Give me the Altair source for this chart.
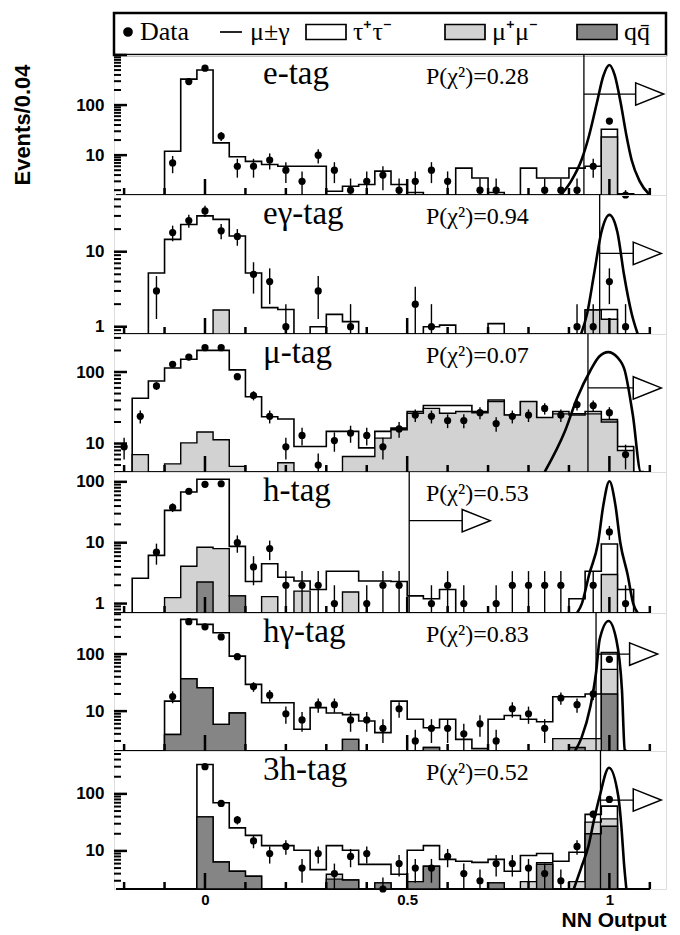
import math
import altair as alt
import pandas as pd

# ---------------- data ----------------
centers = [-0.20, -0.16, -0.12, -0.08, -0.04, 0.00, 0.04, 0.08, 0.12, 0.16, 0.20,
           0.24, 0.28, 0.32, 0.36, 0.40, 0.44, 0.48, 0.52, 0.56, 0.60, 0.64,
           0.68, 0.72, 0.76, 0.80, 0.84, 0.88, 0.92, 0.96, 1.00, 1.04, 1.08]

tags = ["e-tag", "eγ-tag", "μ-tag", "h-tag", "hγ-tag", "3h-tag"]
pchi = ["0.28", "0.94", "0.07", "0.53", "0.83", "0.52"]

# stacked tops: total (tau+mumu+qq), mumu+qq, qq ; data counts
tot_e = [0, 0, 0, 12, 330, 500, 17.6, 9.3, 7.5, 6.5, 6, 6, 6, 1.9, 2.4, 2.6, 4.8, 2.6, 1.8, 0, 0, 5.5, 3.5, 1.8, 0, 5.5, 3.5, 3.5, 5.5, 6, 33, 1.7, 0]
mu_e = [0] * 30 + [23, 0, 0]
qq_e = [0] * 33
dat_e = [0, 0, 0, 7, 295, 545, 24, 6, 6, 8, 5, 3, 10, 5, 2, 3, 4, 2, 3, 5, 3, 0, 2, 2, 0, 0, 2, 2, 2, 6, 48, 1, 0]

tot_eg = [0, 0, 5.2, 14.6, 23, 30, 27, 16.2, 5.2, 1.8, 1.7, 0, 1.0, 1.46, 1.17, 0, 0, 0, 0, 1.0, 1.05, 0, 0, 1.1, 0, 0, 0, 0, 0, 1.67, 1.7, 0, 0]
mu_eg = [0, 0, 0, 0, 0, 0, 1.67, 0, 0, 0, 0, 0, 0, 0, 0, 0, 0, 0, 0, 0, 0, 0, 0, 0, 0, 0, 0, 0, 0, 1.67, 1.26, 0, 0]
qq_eg = [0] * 33
dat_eg = [0, 0, 3, 18, 26, 35, 19, 16, 5, 4, 1, 0, 3, 0, 1, 0, 0, 0, 2, 1, 0, 0, 0, 0, 0, 0, 0, 0, 1, 1, 4, 1, 0]

tot_mu = [0, 43, 75, 114, 151, 201, 201, 107, 45, 23.7, 22, 9.1, 9.1, 14.8, 14.8, 8.7, 14.8, 16.4, 28, 34, 34, 34, 28, 40.6, 25, 38.5, 23, 28, 26, 28, 21.6, 9.1, 0]
mu_mu = [0, 7, 0, 5.2, 10.2, 14.5, 11.3, 4.8, 0, 0, 5.4, 0, 0, 0, 6.6, 6.6, 11.9, 15.6, 26.5, 31, 26.5, 28, 27, 38.5, 25, 38.5, 23, 26, 25, 26, 20, 8, 0]
qq_mu = [0] * 33
dat_mu = [9, 24, 64, 128, 162, 219, 219, 86, 47, 24, 9, 13, 5, 11, 14, 13, 9, 16, 25, 24, 21, 21, 27, 19, 24, 25, 31, 25, 35, 34, 27, 7, 0]

tot_h = [0, 2.6, 6.2, 34, 68, 110, 110, 8.7, 2.3, 4.5, 2.7, 2.35, 1.7, 3.4, 3.4, 2.35, 2.35, 2.3, 1.34, 1.2, 1.7, 0, 0, 0, 0, 0, 0, 0, 1.2, 3.4, 9.5, 1.7, 0]
mu_h = [0, 0, 0, 1.25, 4.1, 8.4, 8.0, 1.34, 0, 1.3, 0, 1.6, 0, 0, 1.55, 0, 0, 0, 0, 0, 0, 0, 0, 0, 0, 0, 0, 0, 0, 0, 3.0, 0, 0]
qq_h = [0, 0, 0, 0, 0, 2.26, 0, 1.34, 0, 0, 0, 0, 0, 0, 0, 0, 0, 0, 0, 0, 0, 0, 0, 0, 0, 0, 0, 0, 0, 0, 0, 0, 0]
dat_h = [0, 0, 7, 38, 70, 91, 93, 10, 4, 8, 2, 2, 2, 1, 0, 1, 2, 2, 0, 1, 2, 1, 0, 1, 2, 2, 2, 2, 0, 2, 15, 1, 0]

tot_hg = [0, 0, 0, 15, 406, 332, 237, 92, 29.4, 14, 14, 4.8, 11.5, 9.3, 8.7, 6.7, 4.2, 15, 7.2, 5.1, 7.2, 3.2, 2.2, 7.2, 8.4, 7.2, 6.5, 17.9, 17.9, 20, 106, 0, 0]
mu_hg = [0, 0, 0, 3.9, 37, 25.7, 5.85, 9.3, 0, 0, 0, 0, 0, 0, 3.2, 0, 0, 0, 0, 2.3, 0, 0, 0, 0, 0, 0, 0, 3.3, 3.3, 3.3, 54, 0, 0]
qq_hg = [0, 0, 0, 3.9, 37, 25.7, 5.85, 9.3, 0, 0, 0, 0, 0, 0, 3.2, 0, 0, 0, 0, 2.3, 0, 0, 0, 0, 0, 0, 0, 0, 2.3, 0, 20, 0, 0]
dat_hg = [0, 0, 0, 18, 370, 300, 200, 90, 27, 19, 9, 7, 13, 13, 7, 7, 5, 11, 3, 5, 5, 4, 6, 3, 11, 9, 5, 17, 13, 20, 81, 0, 0]

tot_3h = [0, 0, 0, 0, 0, 328, 70, 25.4, 18.7, 12.4, 12.4, 10.3, 4.7, 12.4, 10.3, 5.8, 5.8, 3.9, 10.3, 12.4, 7.1, 6.6, 6.3, 7.1, 4.4, 8.3, 9.0, 6.6, 9.5, 43.7, 61, 0, 0]
mu_3h = [0, 0, 0, 0, 0, 39.6, 6.4, 4.4, 3.6, 0, 0, 0, 0, 3.9, 3.1, 0, 2.75, 0, 2.9, 5.4, 0, 0, 0, 2.75, 0, 2.9, 6.2, 0, 2.9, 32, 36.5, 0, 0]
qq_3h = [0, 0, 0, 0, 0, 39.6, 6.4, 4.4, 3.6, 0, 0, 0, 0, 3.2, 3.1, 0, 2.75, 0, 2.9, 5.4, 0, 0, 0, 2.75, 0, 0, 5.8, 0, 0, 20, 27, 0, 0]
dat_3h = [0, 0, 0, 0, 0, 300, 68, 35, 15, 9, 12, 5, 9, 4, 8, 9, 2, 6, 5, 5, 8, 4, 3, 6, 6, 5, 4, 3, 12, 44, 80, 0, 0]

# signal (mu gamma) curves, read point by point
sig_x_e = [0.88, 0.905, 0.931, 0.95, 0.969, 0.985, 1.0, 1.013, 1.028, 1.042, 1.055, 1.075, 1.10]
sig_y_e = [1.5, 3, 8, 25, 110, 380, 630, 400, 110, 25, 8, 3, 1.4]
sig_x_eg = [0.93, 0.945, 0.962, 0.98, 1.0, 1.02, 1.036, 1.055, 1.07]
sig_y_eg = [0.8, 1.5, 5, 18, 31, 18, 5, 1.5, 0.8]
sig_x_mu = [0.84, 0.89, 0.92, 0.953, 0.975, 0.997, 1.02, 1.038, 1.058, 1.078, 1.085]
sig_y_mu = [3.5, 14.8, 43, 105, 165, 190, 160, 105, 25, 4, 2]
sig_x_h = [0.92, 0.932, 0.95, 0.972, 0.985, 1.0, 1.015, 1.027, 1.045, 1.059, 1.07]
sig_y_h = [0.5, 1, 3, 10, 41, 102, 41, 10, 3, 1, 0.5]
sig_x_hg = [0.915, 0.931, 0.953, 0.967, 0.976, 0.998, 1.017, 1.031, 1.038, 1.042]
sig_y_hg = [1.5, 3.4, 12, 47, 181, 380, 181, 24, 2.1, 1]
sig_x_3h = [0.912, 0.93, 0.948, 0.962, 0.976, 0.999, 1.022, 1.03, 1.036, 1.042]
sig_y_3h = [2.1, 5, 12, 35, 91, 287, 91, 25, 6.2, 1.5]

cuts = [0.937, 0.976, 0.947, 0.505, 0.967, 0.978]
arrow_y = [166, 9.5, 60, 23, 100, 78]
arrow_tip = [1.065, 1.059, 1.059, 0.636, 1.05, 1.059]

y_domains = [[1.6, 1000], [0.8, 57], [4, 340], [0.7, 145], [2, 525], [2.15, 565]]
y_labels = [[10, 100], [1, 10], [10, 100], [1, 10, 100], [10, 100], [10, 100]]

x_minor = [-0.2, -0.1, 0.1, 0.2, 0.3, 0.4, 0.6, 0.7, 0.8, 0.9, 1.1]
x_major = [0.0, 0.5, 1.0]
x_labels = [0, 0.5, 1]

legend_a = ["Data", "μ±γ", "τ⁺τ⁻"]
legend_b = ["μ⁺μ⁻"]
legend_c = ["qq̄"]

# ---------------- layout / style ----------------
W = 552
heights = [140, 139, 138, 141, 138, 138]
LEG_H = 42
XDOM = [-0.225, 1.14]
FLOOR = 1e-3
BIN = 0.04
SANS = "Liberation Sans"
SERIF = "Liberation Serif"
LIGHT = "#d2d2d2"
DARK = "#858585"
TRI = "M-1,-0.8L1,0L-1,0.8Z"
BOX = "M-1,-0.375L1,-0.375L1,0.375L-1,0.375Z"
DOT = "M0.55,0A0.2,0.2,0,1,1,0.95,0A0.2,0.2,0,1,1,0.55,0Z"
LINE = "M-0.15,0L0.95,0"

panels_data = [
    (tot_e, mu_e, qq_e, dat_e, sig_x_e, sig_y_e),
    (tot_eg, mu_eg, qq_eg, dat_eg, sig_x_eg, sig_y_eg),
    (tot_mu, mu_mu, qq_mu, dat_mu, sig_x_mu, sig_y_mu),
    (tot_h, mu_h, qq_h, dat_h, sig_x_h, sig_y_h),
    (tot_hg, mu_hg, qq_hg, dat_hg, sig_x_hg, sig_y_hg),
    (tot_3h, mu_3h, qq_3h, dat_3h, sig_x_3h, sig_y_3h),
]


def step_df(vals):
    xs = [round(c - BIN / 2, 3) for c in centers] + [round(centers[-1] + BIN / 2, 3)]
    ys = [v if v > 0 else FLOOR for v in vals]
    ys = ys + [ys[-1]]
    return pd.DataFrame({"x": xs, "y": ys, "base": FLOOR})


def panel(i, last):
    tot, mu, qq, dat, sx, sy = panels_data[i]
    H = heights[i]
    yscale = alt.Scale(type="log", domain=y_domains[i], clamp=True)
    xscale = alt.Scale(domain=XDOM, nice=False, zero=False)
    if last:
        xaxis = alt.Axis(values=x_labels, format="~g", ticks=False, domain=False, grid=False,
                         labelFont=SANS, labelFontWeight="bold", labelFontSize=15, labelPadding=3,
                         labelColor="black", title="NN Output", titleFont=SANS,
                         titleFontWeight="bold", titleFontSize=21, titleAnchor="end",
                         titlePadding=2, titleColor="black")
    else:
        xaxis = None
    yaxis = alt.Axis(values=y_labels[i], format="d", ticks=False, domain=False, grid=False,
                     labelFont=SANS, labelFontWeight="bold", labelFontSize=17, labelPadding=10,
                     labelColor="black", title=None)

    def X(f):
        return alt.X(f, type="quantitative", scale=xscale, axis=xaxis)

    def Y(f):
        return alt.Y(f, type="quantitative", scale=yscale, axis=yaxis)

    L = []
    L.append(alt.Chart(step_df(tot)).mark_area(interpolate="step-after", fill="white", stroke="black", strokeWidth=1.6)
             .encode(x=X("x"), y=Y("y"), y2=alt.Y2("base")))
    if any(v > 0 for v in mu):
        L.append(alt.Chart(step_df(mu)).mark_area(interpolate="step-after", fill=LIGHT, stroke="black", strokeWidth=1.4)
                 .encode(x=X("x"), y=Y("y"), y2=alt.Y2("base")))
    if any(v > 0 for v in qq):
        L.append(alt.Chart(step_df(qq)).mark_area(interpolate="step-after", fill=DARK, stroke="black", strokeWidth=1.4)
                 .encode(x=X("x"), y=Y("y"), y2=alt.Y2("base")))

    # axis ticks drawn inside the frame
    L.append(alt.Chart(pd.DataFrame({"x": x_minor})).mark_rule(color="black", strokeWidth=2.5)
             .encode(x=X("x"), y=alt.value(H), y2=alt.value(H - 7)))
    L.append(alt.Chart(pd.DataFrame({"x": x_major})).mark_rule(color="black", strokeWidth=2.5)
             .encode(x=X("x"), y=alt.value(H), y2=alt.value(H - 16)))
    lo, hi = y_domains[i]
    ymaj = [v for v in [0.1, 1, 10, 100, 1000] if lo <= v <= hi]
    ymin = [m * 10 ** e for e in range(-1, 3) for m in range(2, 10) if lo <= m * 10 ** e <= hi]
    L.append(alt.Chart(pd.DataFrame({"y": ymin})).mark_rule(color="black", strokeWidth=2)
             .encode(x=alt.value(0), x2=alt.value(7), y=Y("y")))
    L.append(alt.Chart(pd.DataFrame({"y": ymaj})).mark_rule(color="black", strokeWidth=2.5)
             .encode(x=alt.value(0), x2=alt.value(13), y=Y("y")))

    # signal curve
    L.append(alt.Chart(pd.DataFrame({"x": sx, "y": sy})).mark_line(interpolate="monotone", color="black",
                                                                     strokeWidth=2.6, clip=True)
             .encode(x=X("x"), y=Y("y")))

    # cut line and arrow
    ann = pd.DataFrame({"cut": [cuts[i]], "tip": [arrow_tip[i]], "ay": [arrow_y[i]]})
    L.append(alt.Chart(ann).mark_rule(color="black", strokeWidth=1.3)
             .encode(x=X("cut"), y=alt.value(0), y2=alt.value(H)))
    L.append(alt.Chart(ann).mark_rule(color="black", strokeWidth=1.3)
             .encode(x=X("cut"), x2=alt.X2("tip"), y=Y("ay")))
    L.append(alt.Chart(ann).mark_point(shape=TRI, size=784, filled=True, fill="white", stroke="black",
                                       strokeWidth=1.5, opacity=1, xOffset=14)
             .encode(x=X("tip"), y=Y("ay")))

    # data with Poisson error bars
    d = pd.DataFrame({"x": centers, "n": dat})
    d = d[d.n > 0].copy()
    d["lo"] = [max(n - math.sqrt(n), FLOOR) for n in d.n]
    d["hi"] = [n + math.sqrt(n) for n in d.n]
    L.append(alt.Chart(d).mark_rule(color="black", strokeWidth=1.4)
             .encode(x=X("x"), y=Y("lo"), y2=alt.Y2("hi")))
    L.append(alt.Chart(d).mark_circle(size=52, color="black", opacity=1)
             .encode(x=X("x"), y=Y("n")))

    # panel texts
    lab = pd.DataFrame({"tag": [tags[i]], "p": ["P(χ²)=" + pchi[i]]})
    L.append(alt.Chart(lab).mark_text(font=SERIF, fontSize=33, align="left", baseline="alphabetic", color="black")
             .encode(x=alt.value(149), y=alt.value(29), text="tag:N"))
    L.append(alt.Chart(lab).mark_text(font=SERIF, fontSize=24, align="left", baseline="alphabetic", color="black")
             .encode(x=alt.value(312), y=alt.value(29), text="p:N"))
    if i == 0:
        L.append(alt.Chart(lab).mark_text(text="Events/0.04", font=SANS, fontWeight="bold", fontSize=22,
                                          angle=270, align="center", baseline="middle", color="black")
                 .encode(x=alt.value(-91), y=alt.value(H / 2)))
    return alt.layer(*L).properties(width=W, height=H)


def legend_layer(items, shapes, fills, lx):
    lg = alt.Legend(title=None, orient="none", legendX=lx, legendY=-2, direction="horizontal",
                    labelFont=SERIF, labelFontSize=26, labelColor="black", labelOffset=6,
                    columnPadding=12, symbolSize=1600, symbolStrokeColor="black",
                    symbolStrokeWidth=1.7, symbolOpacity=1, padding=0)
    df = pd.DataFrame({"item": items})
    return alt.Chart(df).mark_point(filled=True, opacity=0, strokeWidth=1.7).encode(
        x=alt.value(0), y=alt.value(0),
        shape=alt.Shape("item:N", scale=alt.Scale(domain=items, range=shapes), legend=lg),
        fill=alt.Fill("item:N", scale=alt.Scale(domain=items, range=fills), legend=lg),
        stroke=alt.Stroke("item:N", scale=alt.Scale(domain=items, range=["black"] * len(items)), legend=lg),
    )


frame = alt.Chart(pd.DataFrame({"f": [0]})).mark_rect(fill="transparent", stroke="black", strokeWidth=2.5).encode(
    x=alt.value(0), x2=alt.value(W), y=alt.value(0), y2=alt.value(LEG_H))

legend_chart = alt.layer(
    frame,
    legend_layer(legend_a, [DOT, LINE, BOX], ["black", "transparent", "white"], -22),
    legend_layer(legend_b, [BOX], [LIGHT], 330),
    legend_layer(legend_c, [BOX], [DARK], 462),
).resolve_scale(shape="independent", fill="independent", stroke="independent").properties(width=W, height=LEG_H)

panels = [panel(i, i == 5) for i in range(6)]

chart = alt.vconcat(legend_chart, *panels, spacing=0, bounds="flush").properties(
    padding={"left": 3, "top": 2, "right": 0, "bottom": 0}
).configure_view(stroke="black", strokeWidth=2.5).configure(background="white")

chart.save("out.html", embed_options={"renderer": "svg", "actions": False})
